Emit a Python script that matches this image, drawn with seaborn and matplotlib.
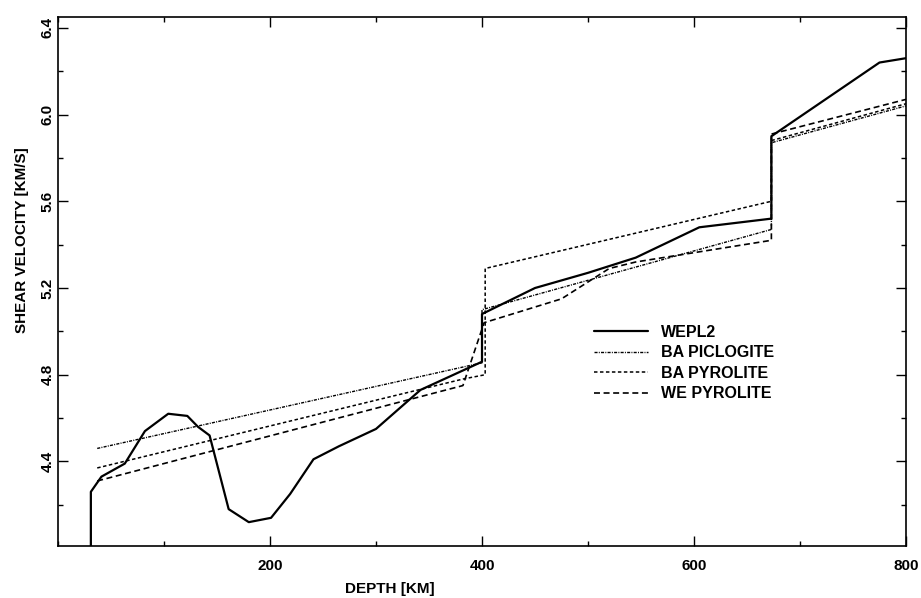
import matplotlib
matplotlib.use("Agg")
import matplotlib.pyplot as plt
from matplotlib.ticker import MultipleLocator
import pandas as pd
import seaborn as sns

# Shear-velocity profiles versus depth
wepl2_depth = [31, 31, 41, 63, 82, 104, 122, 132, 143, 161, 180, 201, 219, 241,
               265, 300, 342, 400, 400, 450, 500, 545, 605, 673, 673, 775, 800]
wepl2_vs = [4.00, 4.26, 4.33, 4.39, 4.54, 4.62, 4.61, 4.56, 4.52, 4.18, 4.12, 4.14,
            4.25, 4.41, 4.47, 4.55, 4.73, 4.86, 5.08, 5.20, 5.27, 5.34, 5.48, 5.52,
            5.90, 6.24, 6.26]

piclogite_depth = [37, 400, 400, 673, 673, 800]
piclogite_vs = [4.46, 4.855, 5.10, 5.47, 5.87, 6.04]

ba_pyrolite_depth = [37, 382, 403, 403, 673, 673, 800]
ba_pyrolite_vs = [4.37, 4.78, 4.80, 5.29, 5.60, 5.88, 6.05]

we_pyrolite_depth = [37, 382, 402, 475, 520, 545, 673, 673, 800]
we_pyrolite_vs = [4.31, 4.75, 5.04, 5.15, 5.29, 5.32, 5.42, 5.91, 6.07]

series_names = ["WEPL2", "BA PICLOGITE", "BA PYROLITE", "WE PYROLITE"]

x_ticks_major = [200, 400, 600, 800]
y_ticks_major = [4.4, 4.8, 5.2, 5.6, 6.0, 6.4]

frames = []
for name, d, v in zip(series_names,
                      [wepl2_depth, piclogite_depth, ba_pyrolite_depth, we_pyrolite_depth],
                      [wepl2_vs, piclogite_vs, ba_pyrolite_vs, we_pyrolite_vs]):
    frames.append(pd.DataFrame({"depth": d, "vs": v, "model": name,
                                "order": range(len(d))}))
profiles = pd.concat(frames, ignore_index=True)

sns.set_theme(style="ticks")
plt.rcParams["font.family"] = ["Liberation Sans", "DejaVu Sans"]
plt.rcParams["font.weight"] = "bold"
plt.rcParams["lines.scale_dashes"] = False

fig = plt.figure(figsize=(9.21, 5.98), dpi=100)
ax = fig.add_axes([58 / 921, 1 - 546 / 598, 848 / 921, 529 / 598])

line_styles = {
    "WEPL2": dict(linestyle="-", linewidth=1.6),
    "BA PICLOGITE": dict(linestyle=(0, (2.2, 0.9, 0.7, 0.9)), linewidth=1.0),
    "BA PYROLITE": dict(linestyle=(0, (2.5, 1.8)), linewidth=1.1),
    "WE PYROLITE": dict(linestyle=(0, (4.3, 2.6)), linewidth=1.2),
}

for name in series_names:
    sub = profiles[profiles["model"] == name].sort_values("order")
    sns.lineplot(data=sub, x="depth", y="vs", estimator=None, sort=False,
                 color="black", label=name, ax=ax, **line_styles[name])

ax.set_xlim(0, 800)
ax.set_ylim(4.01, 6.45)

ax.xaxis.set_minor_locator(MultipleLocator(100))
ax.yaxis.set_minor_locator(MultipleLocator(0.2))
ax.set_xticks(x_ticks_major)
ax.set_xticklabels([f"{t:d}" for t in x_ticks_major])
ax.set_yticks(y_ticks_major)
ax.set_yticklabels([f"{t:.1f}" for t in y_ticks_major], rotation=90, va="center")

ax.tick_params(which="both", direction="in", top=True, right=True, color="black",
               labelsize=11, labelcolor="black")
ax.tick_params(which="major", length=7, width=1.0)
ax.tick_params(which="minor", length=3.5, width=1.0)
ax.tick_params(axis="x", which="major", pad=9)
ax.tick_params(axis="y", which="major", pad=2.5)

for spine in ax.spines.values():
    spine.set_visible(True)
    spine.set_color("black")
    spine.set_linewidth(1.2)

ax.set_xlabel("DEPTH [KM]", fontsize=11, fontweight="bold", color="black")
ax.set_ylabel("SHEAR VELOCITY [KM/S]", fontsize=11, fontweight="bold", color="black")
ax.xaxis.set_label_coords(0.391, -0.068)
ax.yaxis.set_label_coords(-0.034, 0.578)

leg = ax.legend(loc="upper left", bbox_to_anchor=(0.615, 0.445), frameon=False,
                handlelength=3.4, handletextpad=0.8, labelspacing=0.34,
                prop={"size": 11.5, "weight": "bold"})
for t in leg.get_texts():
    t.set_color("black")

fig.savefig("out.png", dpi=100, facecolor="white")
